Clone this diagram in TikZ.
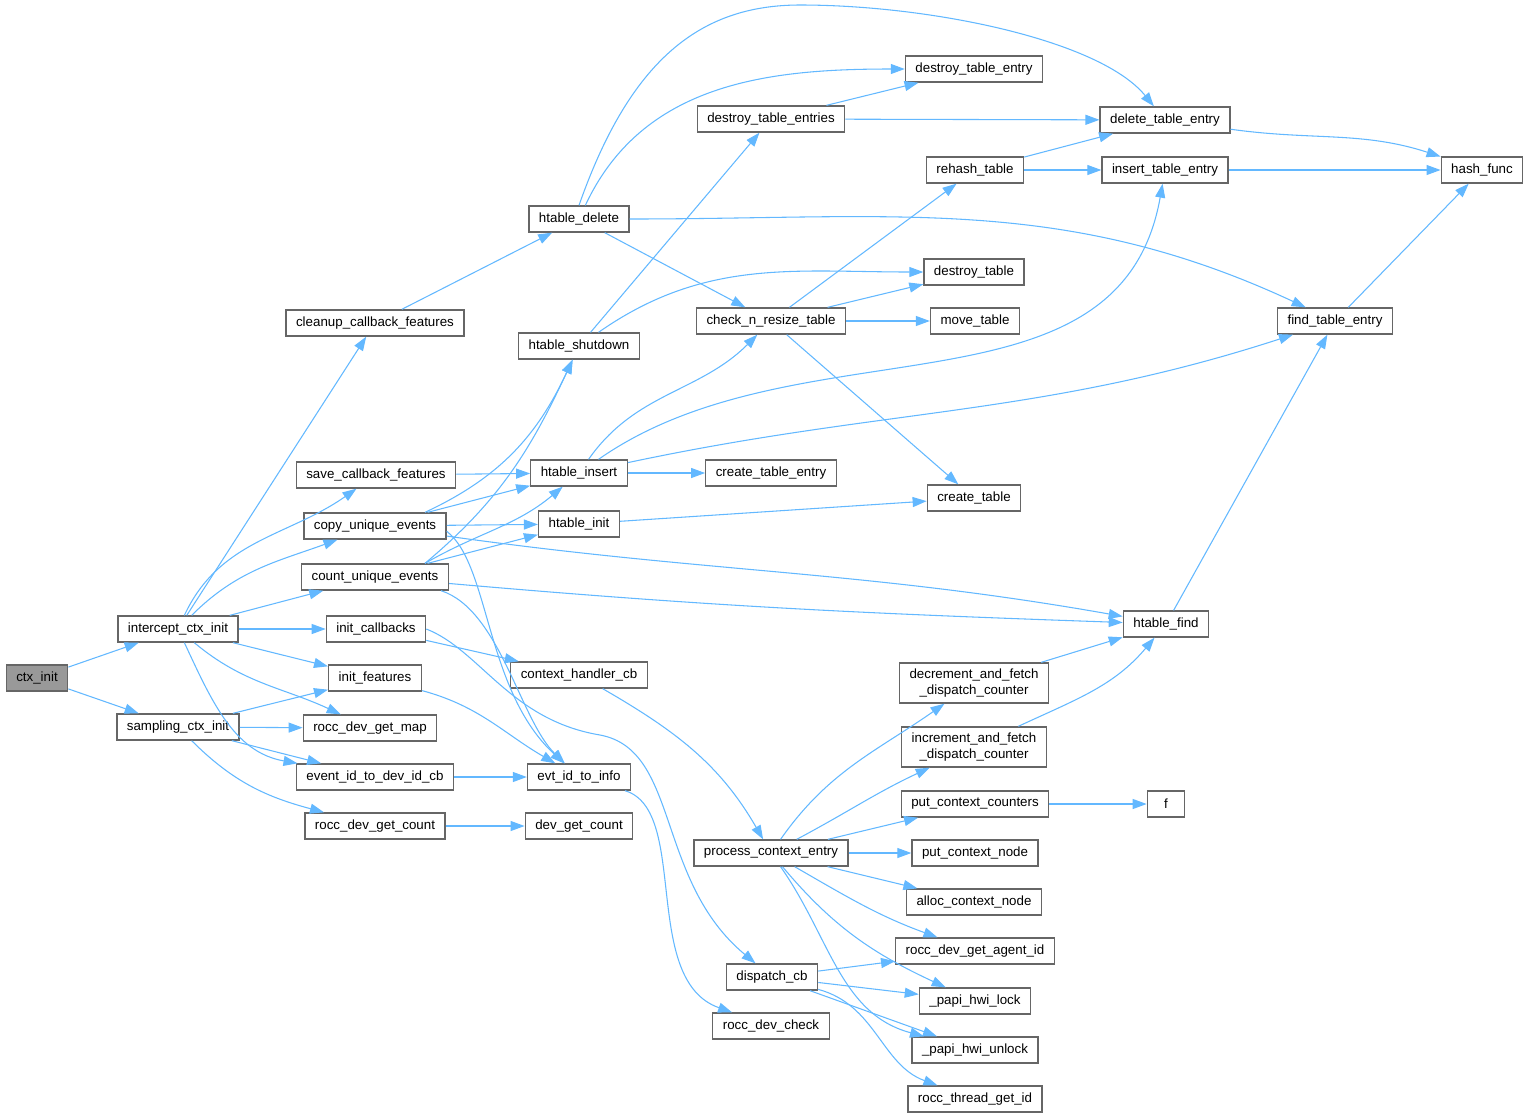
\documentclass[tikz,border=0pt]{standalone}
\usepackage{fontspec}
\setmainfont{Liberation Sans}
\usetikzlibrary{arrows.meta}
\definecolor{edgeblue}{HTML}{63B8FF}
\definecolor{boxline}{HTML}{666666}
\definecolor{boxgray}{HTML}{999999}
\begin{document}
\begin{tikzpicture}[x=0.75pt,y=-0.75pt,
  fn/.style={draw=boxline,line width=1pt,fill=white,font=\fontsize{10}{12}\selectfont,
    minimum height=19.5pt,minimum width=28pt,inner xsep=7.5pt,inner ysep=2pt},
  fntwo/.style={fn,align=center,minimum height=30pt},
  edge/.style={draw=edgeblue,line width=0.8pt,-{Triangle[length=10.5pt,width=7.5pt]}}]
\useasboundingbox (0,0) rectangle (1529,1118);
\path (  37, 678) node[fn,fill=boxgray] (ctxinit)   {ctx\_init};
\path ( 178, 629) node[fn] (intercept)      {intercept\_ctx\_init};
\path ( 178, 727) node[fn] (sampling)       {sampling\_ctx\_init};
\path ( 375, 323) node[fn] (cleanup)        {cleanup\_callback\_features};
\path ( 376, 475) node[fn] (savecb)         {save\_callback\_features};
\path ( 375, 526) node[fn] (copyev)         {copy\_unique\_events};
\path ( 375, 577) node[fn] (countev)        {count\_unique\_events};
\path ( 376, 629) node[fn] (initcb)         {init\_callbacks};
\path ( 375, 678) node[fn] (initfeat)       {init\_features};
\path ( 370, 728) node[fn] (getmap)         {rocc\_dev\_get\_map};
\path ( 375, 777) node[fn] (evtodev)        {event\_id\_to\_dev\_id\_cb};
\path ( 375, 826) node[fn] (getcount)       {rocc\_dev\_get\_count};
\path ( 579, 219) node[fn] (hdelete)        {htable\_delete};
\path ( 579, 346) node[fn] (hshutdown)      {htable\_shutdown};
\path ( 579, 473) node[fn] (hinsert)        {htable\_insert};
\path ( 579, 524) node[fn] (hinit)          {htable\_init};
\path ( 579, 675) node[fn] (ctxhandler)     {context\_handler\_cb};
\path ( 579, 777) node[fn] (evtinfo)        {evt\_id\_to\_info};
\path ( 579, 826) node[fn] (devcount)       {dev\_get\_count};
\path ( 771, 119) node[fn] (destroyentries) {destroy\_table\_entries};
\path ( 771, 321) node[fn] (checkresize)    {check\_n\_resize\_table};
\path ( 771, 473) node[fn] (createentry)    {create\_table\_entry};
\path ( 771, 853) node[fn] (process)        {process\_context\_entry};
\path ( 772, 977) node[fn] (dispatch)       {dispatch\_cb};
\path ( 771,1026) node[fn] (devcheck)       {rocc\_dev\_check};
\path ( 974,  69) node[fn] (destroyentry)   {destroy\_table\_entry};
\path ( 975, 170) node[fn] (rehash)         {rehash\_table};
\path ( 974, 272) node[fn] (destroytab)     {destroy\_table};
\path ( 975, 321) node[fn] (movetab)        {move\_table};
\path ( 974, 498) node[fn] (createtab)      {create\_table};
\path ( 974, 683) node[fntwo] (decfetch)    {decrement\_and\_fetch\\\_dispatch\_counter};
\path ( 974, 747) node[fntwo] (incfetch)    {increment\_and\_fetch\\\_dispatch\_counter};
\path ( 975, 804) node[fn] (putcounters)    {put\_context\_counters};
\path ( 975, 853) node[fn] (putnode)        {put\_context\_node};
\path ( 974, 902) node[fn] (allocnode)      {alloc\_context\_node};
\path ( 975, 951) node[fn] (agentid)        {rocc\_dev\_get\_agent\_id};
\path ( 975,1001) node[fn] (hwilock)        {\_papi\_hwi\_lock};
\path ( 975,1050) node[fn] (hwiunlock)      {\_papi\_hwi\_unlock};
\path ( 975,1099) node[fn] (threadid)       {rocc\_thread\_get\_id};
\path (1165, 120) node[fn] (deleteentry)    {delete\_table\_entry};
\path (1165, 170) node[fn] (insertentry)    {insert\_table\_entry};
\path (1166, 624) node[fn] (hfind)          {htable\_find};
\path (1166, 804) node[fn] (ffunc)          {f};
\path (1335, 321) node[fn] (findentry)      {find\_table\_entry};
\path (1482, 170) node[fn] (hashfunc)       {hash\_func};
% calls
\draw[edge] (ctxinit) -- (intercept);
\draw[edge] (ctxinit) -- (sampling);
\draw[edge] (intercept) -- (cleanup);
\draw[edge] (intercept) to[out=65,in=-145] (savecb);
\draw[edge] (intercept) to[out=45,in=-160] (copyev);
\draw[edge] (intercept) -- (countev);
\draw[edge] (intercept) -- (initcb);
\draw[edge] (intercept) -- (initfeat);
\draw[edge] (intercept) to[out=-40,in=155] (getmap);
\draw[edge] (intercept) to[out=-65,in=170] (evtodev);
\draw[edge] (sampling) -- (initfeat);
\draw[edge] (sampling) -- (getmap);
\draw[edge] (sampling) -- (evtodev);
\draw[edge] (sampling) to[out=-45,in=165] (getcount);
\draw[edge] (cleanup) -- (hdelete);
\draw[edge] (savecb) -- (hinsert);
\draw[edge] (copyev) -- (hinsert);
\draw[edge] ([xshift=37.5pt]copyev.north) to[out=25,in=-115] (hshutdown);
\draw[edge] (copyev) -- (hinit);
\draw[edge] (copyev) to[out=-8,in=170] (hfind);
\draw[edge] ([yshift=-4pt]copyev.east) .. controls (490,565) and (485,690) .. (evtinfo);
\draw[edge] ([xshift=37.5pt]countev.north) to[out=30,in=-140] (hinsert);
\draw[edge] ([xshift=37.5pt]countev.north) to[out=40,in=-115] (hshutdown);
\draw[edge] (countev) -- (hinit);
\draw[edge] (countev) to[out=-5,in=178] (hfind);
\draw[edge] ([xshift=-6pt]countev.south east) .. controls (500,610) and (520,720) .. (evtinfo);
\draw[edge] (initcb) -- (ctxhandler);
\draw[edge] (initcb.east) .. controls (480,650) and (510,720) .. (600,735)
  .. controls (680,750) and (655,880) .. (dispatch);
\draw[edge] (initfeat) to[out=-15,in=150] (evtinfo);
\draw[edge] (evtodev) -- (evtinfo);
\draw[edge] (getcount) -- (devcount);
\draw[edge] (evtinfo) .. controls (690,810) and (640,980) .. (devcheck);
\draw[edge] (ctxhandler) to[out=-30,in=120] (process);
\draw[edge] (hdelete.north) .. controls (630,60) and (700,5) .. (800,5)
  .. controls (930,5) and (1100,40) .. (deleteentry);
\draw[edge] (hdelete) to[out=65,in=180] (destroyentry);
\draw[edge] (hdelete) -- (checkresize);
\draw[edge] (hdelete) to[out=0,in=155] (findentry);
\draw[edge] (hshutdown) -- (destroyentries);
\draw[edge] (hshutdown) to[out=35,in=180] (destroytab);
\draw[edge] (hinsert) to[out=55,in=-135] (checkresize);
\draw[edge] (hinsert) to[out=35,in=-100] (insertentry);
\draw[edge] (hinsert) to[out=12,in=-162] (findentry);
\draw[edge] (hinsert) -- (createentry);
\draw[edge] (hinit) -- (createtab);
\draw[edge] (destroyentries) -- (destroyentry);
\draw[edge] (destroyentries) -- (deleteentry);
\draw[edge] (checkresize) -- (rehash);
\draw[edge] (checkresize) -- (destroytab);
\draw[edge] (checkresize) -- (movetab);
\draw[edge] (checkresize) -- (createtab);
\draw[edge] (rehash) -- (deleteentry);
\draw[edge] (rehash) -- (insertentry);
\draw[edge] (deleteentry) to[out=-8,in=162] (hashfunc);
\draw[edge] (insertentry) -- (hashfunc);
\draw[edge] (findentry) -- (hashfunc);
\draw[edge] (hfind) -- (findentry);
\draw[edge] (decfetch) -- (hfind);
\draw[edge] (incfetch) to[out=25,in=-130] (hfind);
\draw[edge] (putcounters) -- (ffunc);
\draw[edge] (process) to[out=55,in=-145] (decfetch);
\draw[edge] (process) to[out=28,in=-155] (incfetch);
\draw[edge] (process) -- (putcounters);
\draw[edge] (process) -- (putnode);
\draw[edge] (process) -- (allocnode);
\draw[edge] (process) to[out=-30,in=160] (agentid);
\draw[edge] (process) to[out=-50,in=155] (hwilock);
\draw[edge] (process) to[out=-55,in=165] (hwiunlock);
\draw[edge] (dispatch) -- (agentid);
\draw[edge] (dispatch) -- (hwilock);
\draw[edge] (dispatch) -- (hwiunlock);
\draw[edge] (dispatch) to[out=-15,in=160] (threadid);
\end{tikzpicture}
\end{document}
